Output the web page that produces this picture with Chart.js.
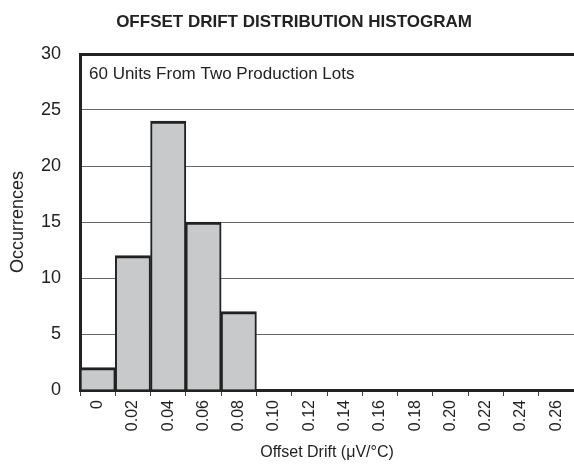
<!DOCTYPE html>
<html><head><meta charset="utf-8">
<script src="https://cdn.jsdelivr.net/npm/chart.js@4"></script>
<style>html,body{margin:0;padding:0;background:#fff}#wrap{width:574px;height:474px}</style>
</head><body><div id="wrap"><canvas id="c" width="574" height="474"></canvas></div>
<script>
const categories = ['0','0.02','0.04','0.06','0.08','0.10','0.12','0.14','0.16','0.18','0.20','0.22','0.24','0.26'];
const occurrences = [2,12,24,15,7,0,0,0,0,0,0,0,0,0];
const yMin = 0, yMax = 30, yStep = 5;
const chartTitle = 'OFFSET DRIFT DISTRIBUTION HISTOGRAM';
const noteText = '60 Units From Two Production Lots';
const xTitle = 'Offset Drift (\u03BCV/\u00B0C)';
const yTitle = 'Occurrences';

const FONT = '"Liberation Sans", Arial, Helvetica, sans-serif';
const INK = '#222';

const textPlugin = {
  id: 'texts',
  afterDraw(chart) {
    const {ctx, chartArea} = chart;
    ctx.save();
    ctx.fillStyle = INK;
    ctx.textBaseline = 'alphabetic';
    ctx.textAlign = 'center';
    ctx.font = 'bold 17px ' + FONT;
    ctx.fillText(chartTitle, 294, 27);
    ctx.textAlign = 'left';
    ctx.font = '17px ' + FONT;
    ctx.fillText(noteText, chartArea.left + 9, chartArea.top + 25);
    ctx.restore();
  }
};

new Chart(document.getElementById('c'), {
  type: 'bar',
  data: {
    labels: categories,
    datasets: [{
      data: occurrences,
      backgroundColor: '#c8c9cb',
      borderColor: INK,
      borderWidth: {top: 3, left: 2, right: 2, bottom: 0},
      borderSkipped: false,
      barPercentage: 1,
      categoryPercentage: 1
    }]
  },
  options: {
    responsive: false,
    animation: false,
    devicePixelRatio: 1,
    layout: {padding: {top: 54, right: 0, left: 0, bottom: 0}},
    plugins: {
      legend: {display: false},
      tooltip: {enabled: false},
      title: {display: false}
    },
    scales: {
      x: {
        offset: true,
        grid: {display: true, drawOnChartArea: false, drawTicks: true, tickLength: 6, color: '#444', lineWidth: 1, offset: true},
        border: {display: true, width: 3, color: INK},
        ticks: {minRotation: 90, maxRotation: 90, autoSkip: false, color: INK, font: {family: FONT, size: 16}, padding: 4},
        title: {display: true, text: xTitle, color: INK, font: {family: FONT, size: 16}, padding: {top: 4, bottom: 12}},
        afterFit(s) { s.height = 84; s.paddingLeft = 0; s.paddingRight = 0; }
      },
      y: {
        min: yMin, max: yMax,
        ticks: {stepSize: yStep, color: INK, font: {family: FONT, size: 18}, padding: 19},
        grid: {
          drawTicks: false,
          color: c => c.tick && c.tick.value === yMax ? INK : '#666',
          lineWidth: c => c.tick && c.tick.value === yMax ? 3 : 1
        },
        border: {display: true, width: 3, color: INK},
        title: {display: true, text: yTitle, color: INK, font: {family: FONT, size: 18}, padding: {top: 7, bottom: 4}},
        afterFit(s) { s.width = 80; s.paddingTop = 0; s.paddingBottom = 0; }
      }
    }
  },
  plugins: [textPlugin]
});
</script>
</body></html>
